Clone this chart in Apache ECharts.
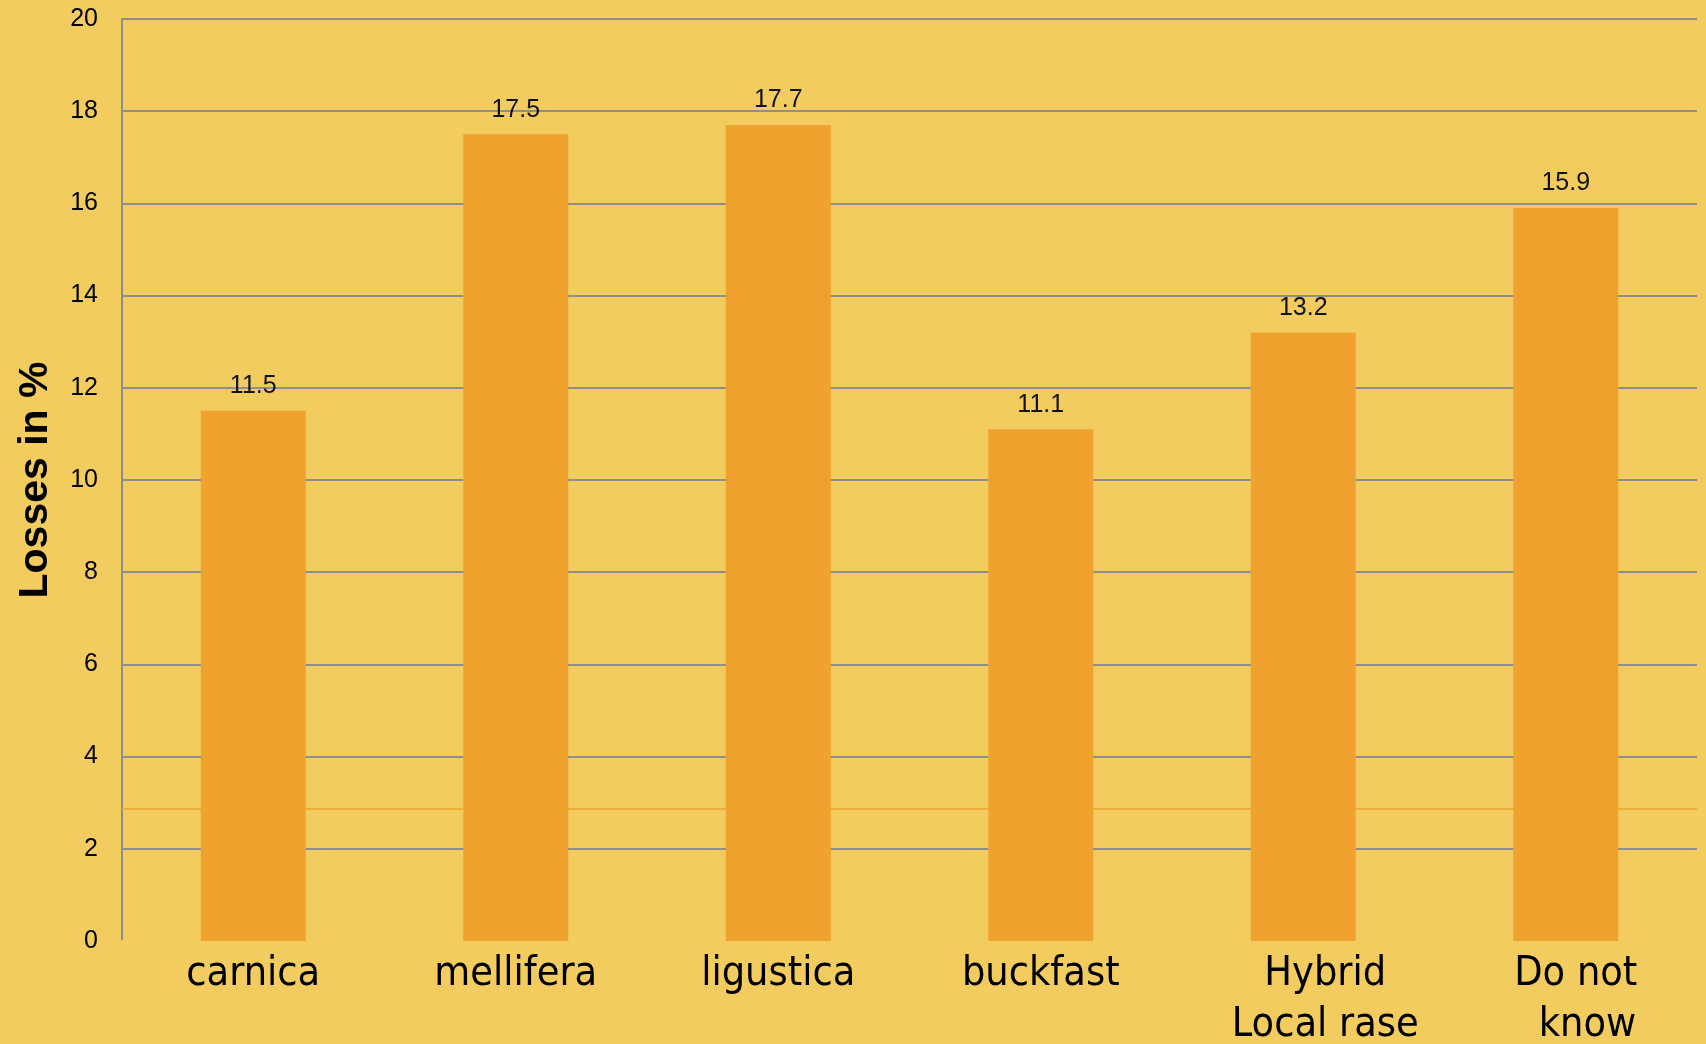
<!DOCTYPE html>
<html>
<head>
<meta charset="utf-8">
<script src="https://cdn.jsdelivr.net/npm/echarts@6/dist/echarts.min.js"></script>
<style>
html,body{margin:0;padding:0;background:#F2CC5F;}
#chart{width:1706px;height:1044px;}
</style>
</head>
<body>
<div id="chart"></div>
<script>
const categories = ['carnica', 'mellifera', 'ligustica', 'buckfast', 'Hybrid\nLocal rase', 'Do not\n  know'];
const losses = [11.5, 17.5, 17.7, 11.1, 13.2, 15.9];
const yTicks = [0, 2, 4, 6, 8, 10, 12, 14, 16, 18, 20];
const strayLineValue = [2.86];

const labelShift = [0, 0, 0, 0, 44, 20];
const BG = '#F2CC5F';
const BAR = '#EFA32E';
const GRID = '#8E8E8E';

const chart = echarts.init(document.getElementById('chart'));
chart.setOption({
  backgroundColor: BG,
  animation: false,
  grid: { left: 122, right: 9, top: 19, bottom: 103, containLabel: false, outerBoundsMode: 'none' },
  xAxis: {
    type: 'category',
    data: categories.map((c, i) => ({ value: c, textStyle: { padding: [0, 0, 0, labelShift[i]] } })),
    z: 1,
    axisTick: { show: false },
    axisLine: { show: true, lineStyle: { color: BG, width: 3 } },
    axisLabel: {
      interval: 0,
      color: '#000',
      fontFamily: '"DejaVu Sans Condensed", "DejaVu Sans", sans-serif',
      fontSize: 41,
      lineHeight: 51,
      margin: 8
    }
  },
  yAxis: {
    type: 'value',
    min: yTicks[0],
    max: yTicks[yTicks.length - 1],
    interval: yTicks[1] - yTicks[0],
    z: 0,
    name: 'Losses in %',
    nameLocation: 'middle',
    nameGap: 66,
    nameTextStyle: { color: '#000', fontFamily: '"Liberation Sans", Arial, sans-serif', fontSize: 41, fontWeight: 'bold' },
    axisLine: { show: true, lineStyle: { color: GRID, width: 2 } },
    axisTick: { show: false },
    splitLine: { show: true, lineStyle: { color: GRID, width: 2 } },
    axisLabel: { color: '#000', fontFamily: '"Liberation Sans", Arial, sans-serif', fontSize: 25, margin: 24 }
  },
  series: [{
    type: 'bar',
    data: losses,
    barWidth: '40%',
    itemStyle: { color: BAR },
    label: {
      show: true,
      position: 'top',
      distance: 12,
      color: '#111',
      fontFamily: '"Liberation Sans", Arial, sans-serif',
      fontSize: 25
    },
    markLine: {
      silent: true,
      symbol: 'none',
      label: { show: false },
      lineStyle: { color: BAR, width: 1.5, type: 'solid' },
      data: strayLineValue.map(v => ({ yAxis: v }))
    }
  }]
});
</script>
</body>
</html>
